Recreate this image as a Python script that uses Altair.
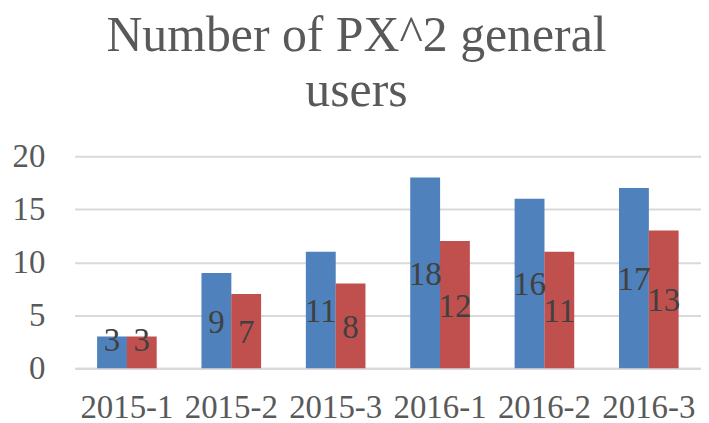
import altair as alt
import pandas as pd

periods = ["2015-1", "2015-2", "2015-3", "2016-1", "2016-2", "2016-3"]
series_a = [3, 9, 11, 18, 16, 17]
series_b = [3, 7, 8, 12, 11, 13]
series_names = ["A", "B"]
colors = ["#4F81BD", "#C0504D"]

rows = []
for i, p in enumerate(periods):
    rows.append({"period": p, "series": series_names[0], "value": series_a[i]})
    rows.append({"period": p, "series": series_names[1], "value": series_b[i]})
df = pd.DataFrame(rows)

FONT = "Liberation Serif"

x = alt.X("period:N", sort=periods, title=None,
          scale=alt.Scale(paddingInner=0.43, paddingOuter=0.215),
          axis=alt.Axis(labelAngle=0, labelFont=FONT, labelFontSize=33, labelColor="#595959",
                        labelPadding=23, ticks=False, domain=True, domainColor="#D9D9D9",
                        domainWidth=2, grid=False))
xo = alt.XOffset("series:N", sort=series_names,
                 scale=alt.Scale(paddingInner=0, paddingOuter=0))

bars = alt.Chart(df).mark_bar(size=30).encode(
    x=x,
    xOffset=xo,
    y=alt.Y("value:Q", title=None,
            scale=alt.Scale(domain=[0, 20]),
            axis=alt.Axis(values=[0, 5, 10, 15, 20], labelFont=FONT, labelFontSize=33,
                          labelColor="#595959", labelPadding=30, ticks=False, domain=False,
                          gridColor="#D9D9D9", gridWidth=2)),
    color=alt.Color("series:N", sort=series_names,
                    scale=alt.Scale(domain=series_names, range=colors), legend=None),
)

labels = alt.Chart(df).transform_calculate(
    ly="max(datum.value / 2, 2.8)"
).mark_text(font=FONT, fontSize=33, color="#404040", baseline="middle", dy=2).encode(
    x=alt.X("period:N", sort=periods),
    xOffset=xo,
    y=alt.Y("ly:Q"),
    text=alt.Text("value:Q"),
)

chart = alt.layer(bars, labels).properties(
    width=629,
    height=213,
    title=alt.Title(["Number of PX^2 general", "users"], font=FONT, fontSize=50,
                    fontWeight="normal", color="#595959", anchor="middle", frame="bounds",
                    lineHeight=56, offset=24),
    padding={"left": 4, "top": 2, "right": 0, "bottom": 0},
).configure_view(stroke=None)

chart.save("out.html", embed_options={"renderer": "svg", "actions": False})
